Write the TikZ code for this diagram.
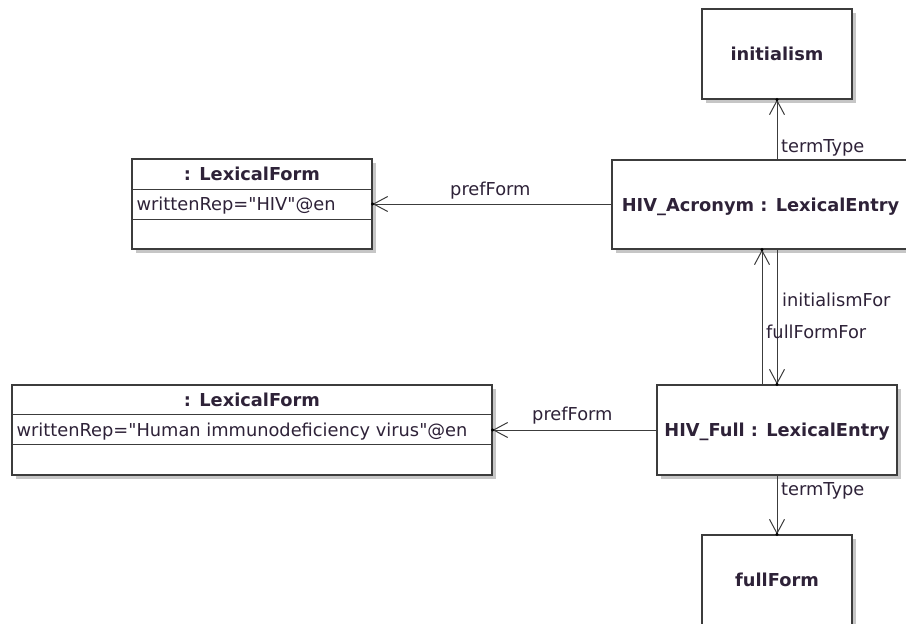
\documentclass[tikz,border=0pt]{standalone}
\usepackage{fontspec}
\setmainfont{DejaVu Sans}
\usetikzlibrary{arrows.meta,shadows}

\definecolor{edge}{HTML}{3C3C3C}
\definecolor{ink}{HTML}{2E2238}
\definecolor{shade}{HTML}{C6C6C6}
\newcommand{\diagfont}{\fontsize{17.8}{21}\selectfont}

\tikzset{
  umlbox/.style={rectangle, draw=edge, line width=1.2pt, fill=white,
    inner sep=0pt, text depth=0pt, text=ink, font=\diagfont\bfseries,
    general shadow={shadow xshift=4pt, shadow yshift=-4pt, fill=shade}},
  divider/.style={draw=edge, line width=1.2pt},
  lbl/.style={inner sep=0pt, text=ink, anchor=base west, font=\diagfont},
  ttl/.style={inner sep=0pt, text=ink, font=\diagfont\bfseries, anchor=base},
  attr/.style={inner sep=0pt, text=ink, anchor=base west, font=\diagfont},
  conn/.style={draw=edge, line width=1pt,
    -{Straight Barb[length=14pt,width=15pt,line width=1pt]}},
  tipdot/.style={circle, fill=black, inner sep=0pt, minimum size=3.4pt}
}

\begin{document}
\begin{tikzpicture}[x=1pt, y=-1pt]
  \useasboundingbox (0,0) rectangle (906,624);
  \fill[white] (0,0) rectangle (906,624);
  \clip (0,0) rectangle (906,624);

  % entries and term types
  \node[umlbox, minimum width=150pt, minimum height=90pt] (init) at (777,54) {initialism};
  \node[umlbox, minimum width=297pt, minimum height=89pt] (acr) at (760.5,204.5) {HIV\_Acronym : LexicalEntry};
  \node[umlbox, minimum width=240pt, minimum height=90pt] (full) at (777,430) {HIV\_Full : LexicalEntry};
  \node[umlbox, minimum width=150pt, minimum height=90pt] (ff) at (777,580) {fullForm};

  % lexical forms (three compartments each)
  \node[umlbox, minimum width=240pt, minimum height=90pt] (lf1) at (252,204) {};
  \draw[divider] ([yshift=-31pt]lf1.north west) -- ([yshift=-31pt]lf1.north east);
  \draw[divider] ([yshift=-61pt]lf1.north west) -- ([yshift=-61pt]lf1.north east);
  \node[ttl] (lf1t) at ([yshift=-22.5pt]lf1.north) {: LexicalForm};
  \node[attr] (lf1a) at ([xshift=5pt,yshift=-52.5pt]lf1.north west) {writtenRep=\textquotedbl HIV\textquotedbl @en};

  \node[umlbox, minimum width=480pt, minimum height=90pt] (lf2) at (252,430) {};
  \draw[divider] ([yshift=-30pt]lf2.north west) -- ([yshift=-30pt]lf2.north east);
  \draw[divider] ([yshift=-60pt]lf2.north west) -- ([yshift=-60pt]lf2.north east);
  \node[ttl] (lf2t) at ([yshift=-21.7pt]lf2.north) {: LexicalForm};
  \node[attr] (lf2a) at ([xshift=5pt,yshift=-51.7pt]lf2.north west) {writtenRep=\textquotedbl Human immunodeficiency virus\textquotedbl @en};

  % associations
  \draw[conn] (acr.north -| init.south) -- (init.south) node[tipdot]{};
  \draw[conn] (acr.west |- lf1.east) -- (lf1.east) node[tipdot]{};
  \draw[conn] (full.west) -- (lf2.east) node[tipdot]{};
  \draw[conn] ([xshift=-15pt]full.north) -- ([xshift=-15pt]full.north |- acr.south) node[tipdot]{};
  \draw[conn] (full.north |- acr.south) -- (full.north) node[tipdot]{};
  \draw[conn] (full.south) -- (ff.north) node[tipdot]{};

  % association labels
  \node[lbl] (l1) at (781,152) {termType};
  \node[lbl] (l2) at (450,195.5) {prefForm};
  \node[lbl] (l3) at (782,306.5) {initialismFor};
  \node[lbl] (l4) at (766,338) {fullFormFor};
  \node[lbl] (l5) at (532,420) {prefForm};
  \node[lbl] (l6) at (781,495) {termType};
\end{tikzpicture}
\end{document}
